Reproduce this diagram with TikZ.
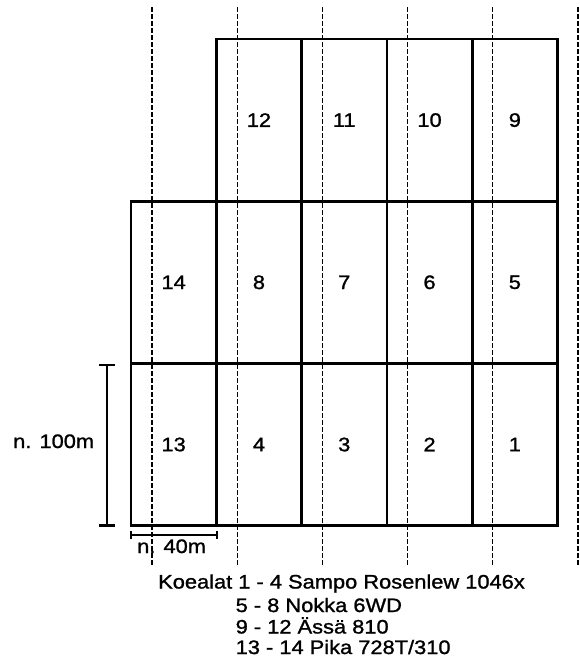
\documentclass[tikz,border=0pt]{standalone}
\usepackage{fontspec}
\setmainfont{Liberation Sans}[FakeStretch=1.12,FakeBold=1.2]
\begin{document}
\begin{tikzpicture}[x=1pt,y=-1pt,
  plotbox/.style={draw, line width=2.6pt, minimum width=85.3pt, minimum height=162.2pt, inner sep=0pt, font=\fontsize{19.5}{22}\selectfont},
  guide/.style={line width=1.6pt, dash pattern=on 4.5pt off 2.5pt},
  lbl/.style={font=\fontsize{19.5}{22}\selectfont, inner sep=0pt}]
\useasboundingbox[fill=white] (0,0) rectangle (579,659);
% dashed guide lines
\foreach \k in {0,...,5}
  \draw[guide] (152.2+85.1*\k,7) -- (152.2+85.1*\k,566);
% plots: top row
\node[plotbox] (p12) at (258.95,120.1) {12};
\node[plotbox] (p11) at (344.25,120.1) {11};
\node[plotbox] (p10) at (429.55,120.1) {10};
\node[plotbox] (p9)  at (514.85,120.1) {9};
% middle row
\node[plotbox] (p14) at (173.65,282.3) {14};
\node[plotbox] (p8)  at (258.95,282.3) {8};
\node[plotbox] (p7)  at (344.25,282.3) {7};
\node[plotbox] (p6)  at (429.55,282.3) {6};
\node[plotbox] (p5)  at (514.85,282.3) {5};
% bottom row
\node[plotbox] (p13) at (173.65,444.5) {13};
\node[plotbox] (p4)  at (258.95,444.5) {4};
\node[plotbox] (p3)  at (344.25,444.5) {3};
\node[plotbox] (p2)  at (429.55,444.5) {2};
\node[plotbox] (p1)  at (514.85,444.5) {1};
% vertical scale bar
\draw[line width=2.6pt] (99,365) -- (115,365) (107,365) -- (107,525.5) (99,525.5) -- (115,525.5);
\node[lbl, anchor=base west] (s100) at (13,448) {n. 100m};
% horizontal scale bar
\draw[line width=1.8pt] (131,535) -- (217,535);
\draw[line width=1.4pt] (131,531) -- (131,539) (217,531) -- (217,539);
\node[lbl, anchor=base west] (s40) at (137,553) {n. 40m};
% legend
\node[lbl, anchor=base west] (leg1) at (158,588.5) {Koealat 1 - 4 Sampo Rosenlew 1046x};
\node[lbl, anchor=base west] (leg2) at (235.5,612) {5 - 8 Nokka 6WD};
\node[lbl, anchor=base west] (leg3) at (235.5,633.5) {9 - 12 Ässä 810};
\node[lbl, anchor=base west] (leg4) at (235.5,654) {13 - 14 Pika 728T/310};
\end{tikzpicture}
\end{document}
